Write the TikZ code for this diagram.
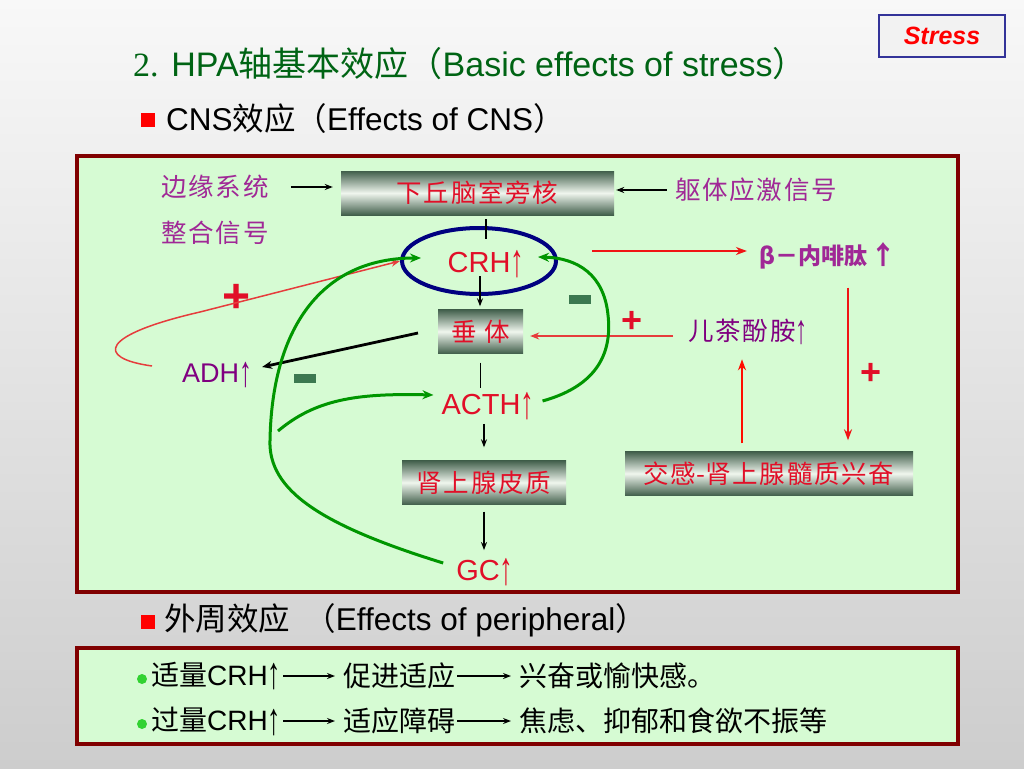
\documentclass[tikz,border=0pt]{standalone}
\usepackage{graphicx}
\usepackage{fontspec}
\setmainfont{Liberation Sans}
\newfontfamily\serifx{Liberation Serif}
\newfontfamily\cjk{Noto Sans CJK SC}
\newfontfamily\cjksp[LetterSpace=7]{Noto Sans CJK SC}
\newcommand\myuparrow{\raisebox{-0.14em}{\scalebox{0.95}[1.6]{\rmfamily ↑}}}
\usetikzlibrary{arrows.meta,shapes.geometric,calc}
\definecolor{bgtop}{RGB}{248,248,248}
\definecolor{bgbot}{RGB}{205,205,205}
\definecolor{pale}{RGB}{214,251,211}
\definecolor{framered}{RGB}{128,0,0}
\definecolor{navyb}{RGB}{0,0,128}
\definecolor{ttlgreen}{RGB}{0,100,20}
\definecolor{magc}{RGB}{160,40,150}
\definecolor{purp}{RGB}{128,0,128}
\definecolor{txtred}{RGB}{225,15,40}
\definecolor{arrred}{RGB}{240,20,20}
\definecolor{thinred}{RGB}{230,60,60}
\definecolor{grn}{RGB}{0,150,0}
\definecolor{minusc}{RGB}{60,120,80}
\definecolor{boxdark}{RGB}{65,95,75}
\definecolor{boxlight}{RGB}{240,246,238}
\definecolor{stressblue}{RGB}{51,51,153}
\definecolor{dotc}{RGB}{50,210,50}
\begin{document}
\begin{tikzpicture}[x=1pt,y=-1pt,
  cjklab/.style={inner sep=0pt, font=\cjksp\fontsize{25.5}{27}\selectfont},
  maglab/.style={cjklab, text=magc},
  gbox/.style={cjklab, text=txtred, top color=boxdark, bottom color=boxdark, middle color=boxlight, minimum height=44pt},
  hormone/.style={inner sep=0pt, text=txtred, font=\fontsize{29}{31}\selectfont},
  blk/.style={draw=black, line width=1.3pt, -{Stealth[length=8pt,width=6pt]}},
  blkline/.style={draw=black, line width=1.3pt},
  redarr/.style={draw=arrred, line width=2pt, -{Stealth[length=11pt,width=8pt]}},
  thinarr/.style={draw=thinred, line width=1.5pt, -{Stealth[length=9pt,width=7pt]}},
  grnarr/.style={draw=grn, line width=3pt, -{Stealth[length=11pt,width=9pt]}},
  plus/.style={inner sep=0pt, text=txtred, font=\bfseries\fontsize{36}{36}\selectfont},
  minusbar/.style={fill=minusc, inner sep=0pt, minimum width=22pt, minimum height=9pt},
  head/.style={inner sep=0pt, anchor=west, font=\fontsize{31.5}{34}\selectfont},
  bul/.style={fill=red, inner sep=0pt, minimum size=14pt},
  row/.style={inner sep=0pt, anchor=west, font=\cjk\fontsize{28}{30}\selectfont},
  gdot/.style={circle, fill=dotc, inner sep=0pt, minimum size=10pt},
  rowarr/.style={blk, shorten <=2pt, shorten >=8pt}
]
\useasboundingbox (0,0) rectangle (1024,768);
\shade[top color=bgtop, bottom color=bgbot] (0,0) rectangle (1024,768);

% Stress tag
\node[draw=stressblue, line width=2.5pt, fill=white!90!gray, minimum width=126pt, minimum height=42pt,
      text=red, font=\bfseries\itshape\fontsize{25}{26}\selectfont] (stress) at (942,36) {Stress};

% headings
\node[head, text=ttlgreen, font=\fontsize{34}{36}\selectfont] (title) at (133,64)
  {{\serifx 2.} HPA{\cjk 轴基本效应（}Basic effects of stress{\cjk ）}};
\node[bul] (b1) at (148,120) {};
\node[head] (h1) at (166,119) {CNS{\cjk 效应（}Effects of CNS{\cjk ）}};
\node[bul] (b2) at (148,622) {};
\node[head] (h2) at (164,620) {{\cjk 外周效应\ \ （}Effects of peripheral{\cjk ）}};

% frames
\draw[framered, line width=3.5pt, fill=pale] (77,156) rectangle (958,592);
\draw[framered, line width=3.5pt, fill=pale] (77,648) rectangle (958,744);

% boxes
\node[gbox, minimum width=273pt] (hyp) at (477.5,193) {下丘脑室旁核};
\node[gbox, minimum width=85pt] (pit) at (480.5,331.5) {垂\ 体};
\node[gbox, minimum width=164pt] (adr) at (484,482.5) {肾上腺皮质};
\node[gbox, minimum width=288pt] (sym) at (769,473.5) {交感{\cjk -}肾上腺髓质兴奋};

% side labels
\node[maglab] (lim1) at (215,187) {边缘系统};
\node[maglab] (lim2) at (215,233) {整合信号};
\node[maglab] (som) at (756,190) {躯体应激信号};
\node[inner sep=0pt, text=magc, font=\cjk\bfseries\fontsize{23}{25}\selectfont] (bend) at (828,256) {β－内啡肽\,{\bfseries\fontsize{26}{26}\selectfont ↑}};
\node[inner sep=0pt, text=purp, font=\cjksp\fontsize{25.5}{27}\selectfont] (cat) at (748,332) {儿茶酚胺\myuparrow};

% hormones
\node[draw=navyb, line width=4pt, ellipse, minimum width=154pt, minimum height=66pt] (ell) at (479,261) {};
\node[hormone] (crh) at (486,264) {CRH\myuparrow};
\node[hormone] (acth) at (488,406) {ACTH\myuparrow};
\node[hormone] (gc) at (485,572) {GC\myuparrow};
\node[inner sep=0pt, text=purp, font=\fontsize{27}{29}\selectfont] (adh) at (217,375) {ADH\myuparrow};

% signs
\node[plus, font=\bfseries\fontsize{48}{48}\selectfont] (p1) at (237,298) {+};
\node[plus] (p2) at (632,322) {+};
\node[plus] (p3) at (871,374) {+};
\node[minusbar] (m1) at (580,299) {};
\node[minusbar] (m2) at (305,378) {};

% black connectors
\draw[blk, shorten <=22pt, shorten >=8pt] (lim1.east) -- (lim1.east -| hyp.west);
\draw[blk, shorten <=8pt, shorten >=2pt] (som.west) -- (som.west -| hyp.east);
\draw[blkline, shorten <=4pt] (hyp.south -| crh) -- ++(0,24);
\coordinate (crhb) at (480,276);
\draw[blk, shorten >=3pt] (crhb) -- (crhb |- pit.north);
\draw[blkline] ($(pit.south)+(0,9)$) -- ($(pit.south)+(0,34)$);
\draw[blk, shorten <=4pt, shorten >=13pt] (acth.south -| adr) -- (adr.north);
\draw[blk, shorten <=7pt, shorten >=8pt] (adr.south) -- (adr.south |- gc.north);
\coordinate (pitl) at (418,333);
\draw[draw=black, line width=2.8pt, -{Stealth[length=10pt,width=8pt]}] (pitl) -- ($(adh.east)+(10,-8)$);

% red connectors
\coordinate (crhr) at (592,251);
\draw[redarr] (crhr) -- ($(bend.west)+(-12,-5)$);
\draw[redarr] ($(bend.south)+(20,18)$) -- ($(sym.north)+(79,-11)$);
\draw[redarr, draw=red!90!orange] ($(sym.north)+(-27,-8)$) -- ($(cat.south)+(-6,14)$);
\coordinate (catl) at (673,336);
\draw[thinarr, shorten >=7pt] (catl) -- (catl -| pit.east);
\coordinate (adhl) at (152,366);
\draw[thinarr] (adhl) .. controls (95,358) and (100,335) .. (200,312) -- (ell.west);

% green feedback curves
\draw[grnarr] ($(gc.west)+(-13,-9)$) .. controls (320,525) and (268,490) .. (270,440)
   .. controls (272,330) and (320,258) .. (421,258);
\draw[grnarr] (278,431) .. controls (315,400) and (355,393) .. ($(acth.west)+(-8,-11)$);
\draw[grnarr] ($(acth.east)+(8,-5)$) .. controls (600,385) and (612,350) .. (608,315)
   .. controls (604,275) and (578,258) .. (538,257);

% peripheral rows
\node[gdot] (d1) at (142,679) {};
\node[row] (r11) at (151,676) {适量{\rmfamily CRH\myuparrow}};
\node[row] (r12) at (343,676) {促进适应};
\node[row] (r13) at (519,676) {兴奋或愉快感。};
\node[gdot] (d2) at (142,724) {};
\node[row] (r21) at (151,721) {过量{\rmfamily CRH\myuparrow}};
\node[row] (r22) at (343,721) {适应障碍};
\node[row] (r23) at (519,721) {焦虑、抑郁和食欲不振等};
\draw[rowarr] (r11.east) -- (r12.west);
\draw[rowarr] (r12.east) -- (r13.west);
\draw[rowarr] (r21.east) -- (r22.west);
\draw[rowarr] (r22.east) -- (r23.west);
\end{tikzpicture}
\end{document}
